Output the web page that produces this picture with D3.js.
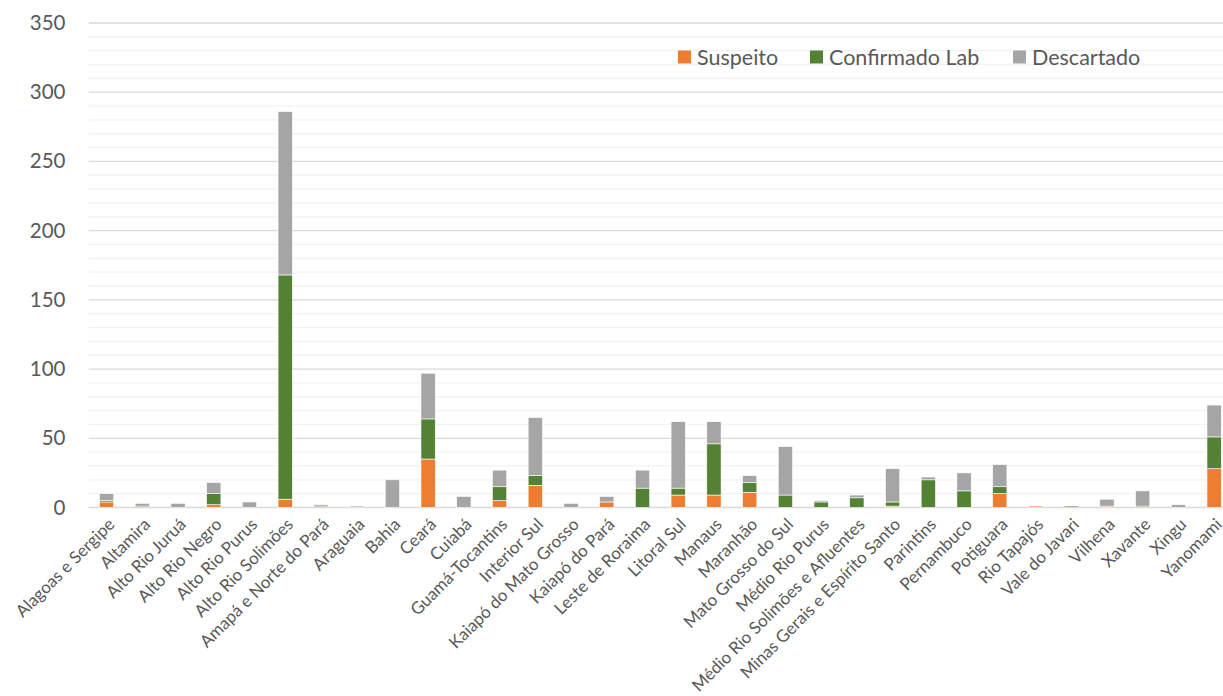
<!DOCTYPE html>
<html>
<head>
<meta charset="utf-8">
<script src="https://cdn.jsdelivr.net/npm/d3@7"></script>
<style>
  html, body { margin: 0; padding: 0; background: #fff; }
  svg { display: block; }
  text { font-family: Lato, "Open Sans", sans-serif; fill: #595959; }
</style>
</head>
<body>
<svg id="chart" width="1223" height="696"></svg>
<script>
const categories = ["Alagoas e Sergipe","Altamira","Alto Rio Juruá","Alto Rio Negro","Alto Rio Purus","Alto Rio Solimões","Amapá e Norte do Pará","Araguaia","Bahia","Ceará","Cuiabá","Guamá-Tocantins","Interior Sul","Kaiapó do Mato Grosso","Kaiapó do Pará","Leste de Roraima","Litoral Sul","Manaus","Maranhão","Mato Grosso do Sul","Médio Rio Purus","Médio Rio Solimões e Afluentes","Minas Gerais e Espírito Santo","Parintins","Pernambuco","Potiguara","Rio Tapajós","Vale do Javari","Vilhena","Xavante","Xingu","Yanomami"];
const suspeito =     [4,0,0,2,0,6,0,0,0,35,0,5,16,0,4,0,9,9,11,0,0,0,1,0,0,10,1,0,1,0,0,28];
const confirmadoLab =[1,1,0,8,0,162,1,0,0,29,0,10,7,0,0,14,5,37,7,9,4,7,3,20,12,5,0,1,0,1,0,23];
const descartado =   [5,2,3,8,4,118,1,1,20,33,8,12,42,3,4,13,48,16,5,35,1,2,24,2,13,16,0,0,5,11,2,23];
const seriesNames = ["Suspeito","Confirmado Lab","Descartado"];
const seriesColors = ["#ED7D31","#548235","#A5A5A5"];
const yTicks = [0,50,100,150,200,250,300,350];

const rows = categories.map((c,i)=>({cat:c, "Suspeito":suspeito[i], "Confirmado Lab":confirmadoLab[i], "Descartado":descartado[i]}));
const stack = d3.stack().keys(seriesNames)(rows);

const svg = d3.select("#chart");
const plotLeft = 88.7, plotRight = 1232, plotTop = 23, plotBottom = 507.5;

const x = d3.scaleBand().domain(categories).range([plotLeft, plotRight]).paddingInner(0.6).paddingOuter(0.3);
const y = d3.scaleLinear().domain([0,350]).range([plotBottom, plotTop]);

// minor gridlines
svg.append("g").selectAll("line").data(d3.range(10,350,10).filter(v=>v%50!==0)).join("line")
  .attr("x1", plotLeft).attr("x2", 1223).attr("y1", d=>y(d)).attr("y2", d=>y(d))
  .attr("stroke", "#f2f2f2").attr("stroke-width", 1.3);
// major gridlines
svg.append("g").selectAll("line").data(yTicks).join("line")
  .attr("x1", plotLeft).attr("x2", 1223).attr("y1", d=>y(d)).attr("y2", d=>y(d))
  .attr("stroke", "#d9d9d9").attr("stroke-width", 1.3);

// y axis labels
const yAxis = d3.axisLeft(y).tickValues(yTicks).tickSize(0).tickPadding(0);
const gy = svg.append("g").attr("transform", `translate(65.5,0)`).call(yAxis);
gy.select(".domain").remove();
gy.selectAll("text").attr("font-size", 20.5).attr("fill", "#595959").style("font-family","Lato, sans-serif");

// bars
svg.append("g").selectAll("g").data(stack).join("g")
  .attr("fill", (d,i)=>seriesColors[i])
  .selectAll("rect").data(d=>d).join("rect")
  .attr("x", d=>x(d.data.cat))
  .attr("width", x.bandwidth())
  .attr("y", d=>y(d[1]))
  .attr("height", d=>Math.max(0, y(d[0]) - y(d[1])))
  .attr("stroke", "#ffffff").attr("stroke-width", 0.6);

// x axis
const xAxis = d3.axisBottom(x).tickSize(0).tickPadding(0);
const gx = svg.append("g").attr("transform", `translate(0,${plotBottom})`).call(xAxis);
gx.select(".domain").remove();
gx.selectAll("text")
  .attr("font-size", 17).attr("fill", "#595959").style("font-family","Lato, sans-serif")
  .attr("text-anchor", "end")
  .attr("dy", null).attr("y", null)
  .attr("transform", "translate(9,18) rotate(-45)");

// legend
const legendX = [678, 810, 1013];
const lg = svg.append("g");
seriesNames.forEach((n,i)=>{
  lg.append("rect").attr("x", legendX[i]).attr("y", 50.5).attr("width", 13).attr("height", 13).attr("fill", seriesColors[i]);
  lg.append("text").attr("x", legendX[i]+19).attr("y", 64.5).attr("font-size", 21.5).text(n);
});
</script>
</body>
</html>
